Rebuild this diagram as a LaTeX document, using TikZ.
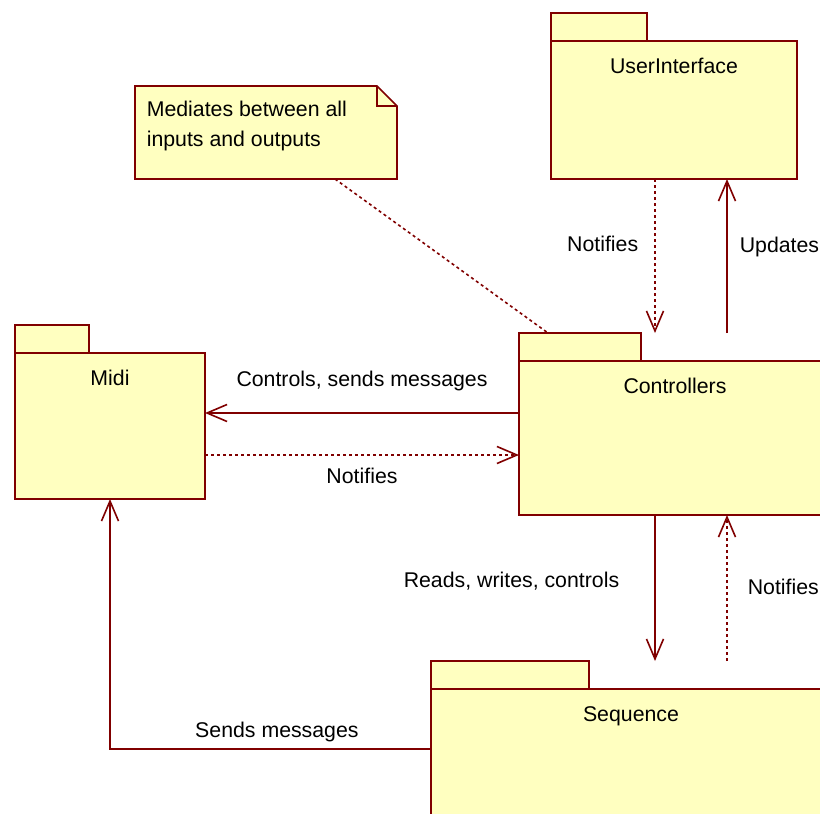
\documentclass[tikz,border=0pt]{standalone}
\usepackage{fontspec}
\setmainfont{Liberation Sans}
\usetikzlibrary{arrows.meta}
\definecolor{roseFill}{RGB}{255,255,192}
\definecolor{roseLine}{RGB}{128,0,0}

\begin{document}
\begin{tikzpicture}[x=1pt, y=-1pt, draw=roseLine, line width=1.6pt,
		every node/.style={font=\fontsize{21.3}{30}\selectfont, text=black},
		pkg/.style={rectangle, draw=roseLine, fill=roseFill, anchor=north west, inner sep=0pt, outer sep=0pt},
		pkgtab/.style={pkg, anchor=south west, minimum height=28pt},
		pkgname/.style={anchor=base, inner sep=0pt},
		lbl/.style={inner sep=2pt},
		depends/.style={dash pattern=on 3pt off 3pt},
		opentip/.style={-{Straight Barb[length=20pt,width=17pt]}}]
		\useasboundingbox (0,0) rectangle (820,814);
		\clip (0,0) rectangle (820,814);
		
		% Packages
		\node[pkg, minimum width=246pt, minimum height=138pt] (ui) at (551,41) {};
		\node[pkgtab, minimum width=96pt] (uitab) at (ui.north west) {};
		\node[pkgname] (uiname) at ([yshift=-32pt]ui.north) {UserInterface};
		
		\node[pkg, minimum width=190pt, minimum height=146pt] (midi) at (15,353) {};
		\node[pkgtab, minimum width=74pt] (miditab) at (midi.north west) {};
		\node[pkgname] (midiname) at ([yshift=-32pt]midi.north) {Midi};
		
		\node[pkg, minimum width=312pt, minimum height=154pt] (ctrl) at (519,361) {};
		\node[pkgtab, minimum width=122pt] (ctrltab) at (ctrl.north west) {};
		\node[pkgname] (ctrlname) at ([yshift=-32pt]ctrl.north) {Controllers};
		
		\node[pkg, minimum width=400pt, minimum height=160pt] (seq) at (431,689) {};
		\node[pkgtab, minimum width=158pt] (seqtab) at (seq.north west) {};
		\node[pkgname] (seqname) at ([yshift=-32pt]seq.north) {Sequence};
		
		% Note
		\node[anchor=north west, minimum width=262pt, minimum height=93pt, inner sep=0pt, outer sep=0pt] (note) at (135,86) {};
		\draw[fill=roseFill] (note.north west) -- ([xshift=-20pt]note.north east)
			-- ([yshift=-20pt]note.north east) -- (note.south east) -- (note.south west) -- cycle;
		\draw ([xshift=-20pt]note.north east) |- ([yshift=-20pt]note.north east);
		\node[anchor=north west, align=left, inner sep=0pt] (notetext) at ([xshift=11pt,yshift=-14pt]note.north west)
			{Mediates between all\\inputs and outputs};
		
		% Connection points
		\coordinate (uiL) at ([xshift=-19pt]ui.south);
		\coordinate (uiR) at ([xshift=53pt]ui.south);
		\coordinate (ctrlTopL) at ([xshift=136pt]ctrltab.north west);
		\coordinate (ctrlTopR) at ([xshift=208pt]ctrltab.north west);
		\coordinate (ctrlBotL) at ([xshift=136pt]ctrl.south west);
		\coordinate (ctrlBotR) at ([xshift=208pt]ctrl.south west);
		\coordinate (ctrlW1) at ([yshift=-52pt]ctrl.north west);
		\coordinate (ctrlW2) at ([yshift=-94pt]ctrl.north west);
		\coordinate (midiE1) at ([yshift=-60pt]midi.north east);
		\coordinate (midiE2) at ([yshift=-102pt]midi.north east);
		\coordinate (seqTopL) at ([xshift=224pt]seqtab.north west);
		\coordinate (seqTopR) at ([xshift=296pt]seqtab.north west);
		\coordinate (seqW) at ([yshift=-60pt]seq.north west);
		\coordinate (noteEnd) at ([xshift=200pt]note.south west);
		\coordinate (ctrlTab) at ([xshift=29pt]ctrltab.north west);
		
		% Arrows
		\begin{scope}[every edge/.style={draw=roseLine, line width=1.6pt}]
			\path [opentip, depends] (uiL) edge node[lbl, left=14pt, pos=0.42] {Notifies} (ctrlTopL);
			\path [opentip] (ctrlTopR) edge node[lbl, right=10pt, pos=0.56] {Updates} (uiR);
			\path [opentip] (ctrlW1) edge node[lbl, above=19pt] {Controls, sends messages} (midiE1);
			\path [opentip, depends] (midiE2) edge node[lbl, below=10pt] {Notifies} (ctrlW2);
			\path [opentip] (ctrlBotL) edge node[lbl, left=33pt, pos=0.45] {Reads, writes, controls} (seqTopL);
			\path [opentip, depends] (seqTopR) edge node[lbl, right=18pt, pos=0.51] {Notifies} (ctrlBotR);
			\path [depends] (noteEnd) edge (ctrlTab);
		\end{scope}
		\draw [opentip] (seqW) -| node[lbl, above=4pt, pos=0.24] {Sends messages} (midi.south);
		
	\end{tikzpicture}
\end{document}
